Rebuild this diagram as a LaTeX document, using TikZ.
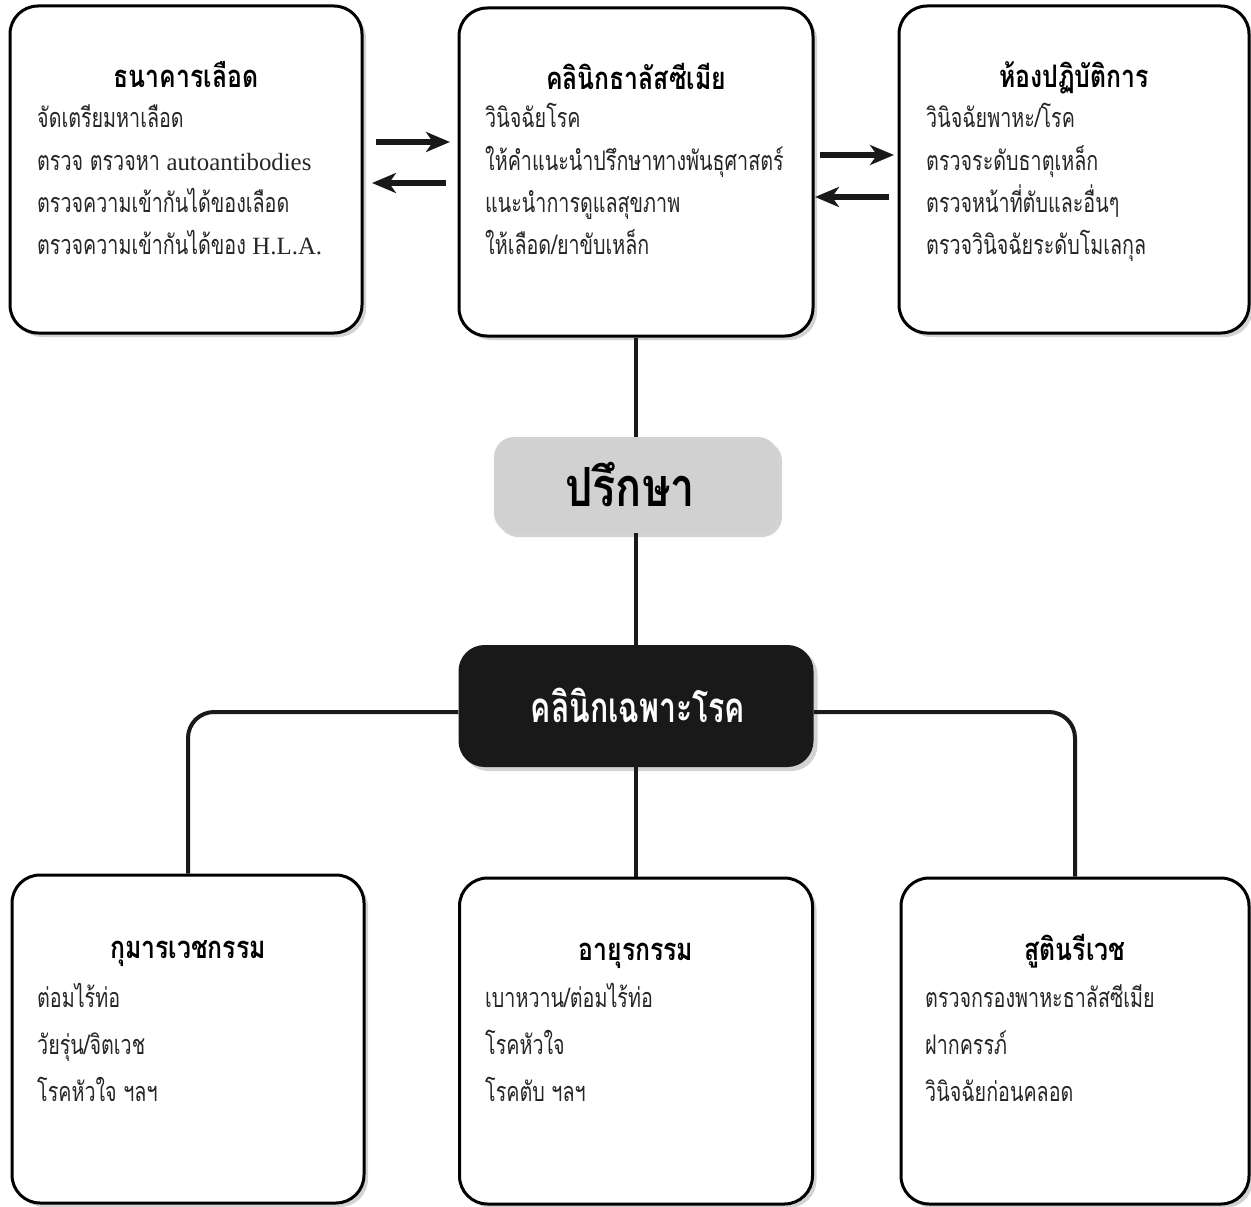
\documentclass[tikz,border=0pt]{standalone}
\usepackage{fontspec}
\usetikzlibrary{arrows.meta,shadows}
\newfontfamily\thai[Script=Thai,FakeStretch=0.73]{Loma}
\newfontfamily\thaiT[Script=Thai,FakeStretch=0.8]{Loma}
\newfontfamily\thaiB[Script=Thai,FakeStretch=0.8]{Loma}
\newfontfamily\thaiC[Script=Thai,FakeStretch=0.72]{Loma}
\newfontfamily\lat[Scale=0.92]{Liberation Serif}
\newcommand\bodytext[5]{\foreach \t [count=\i] in {#5} {\node[body] (#1\i) at (#2,{#3+(\i-1)*#4}) {\t};}}
\begin{document}
\begin{tikzpicture}[x={(1pt,0)},y={(0,-1pt)},
  box/.style={draw=black, line width=3pt, rounded corners=28pt, fill=white,
    drop shadow={shadow xshift=4pt, shadow yshift=-4pt, opacity=0.35}},
  ttl/.style={font=\thaiT\bfseries\fontsize{31}{36}\selectfont, anchor=base, inner sep=0pt},
  body/.style={font=\thai\fontsize{27}{32}\selectfont, anchor=base west, inner sep=0pt, text=black!85},
  link/.style={line width=4pt, black!90},
  arr/.style={line width=5.5pt, black!90, -{Stealth[length=24pt,width=20pt,inset=7pt]}},
]
\useasboundingbox (0,0) rectangle (1251,1207);
% top boxes
\node[box, minimum width=352pt, minimum height=327pt] (bank) at (186,169.5) {};
\node[box, minimum width=354pt, minimum height=328pt] (tm) at (636,172) {};
\node[box, minimum width=350pt, minimum height=327pt] (lab) at (1074,169.5) {};
% bottom boxes
\node[box, minimum width=352pt, minimum height=328pt] (bl) at (188,1039) {};
\node[box, minimum width=353pt, minimum height=326pt] (bm) at (636,1041) {};
\node[box, minimum width=348pt, minimum height=326pt] (br) at (1075,1041) {};
% centre boxes
\node[fill=black!18, rounded corners=20pt, minimum width=284pt, minimum height=96pt,
  drop shadow={shadow xshift=4pt, shadow yshift=-4pt, opacity=0.35}] (cons) at (636,485) {};
\node[fill=black!90, rounded corners=26pt, minimum width=355pt, minimum height=122pt,
  drop shadow={shadow xshift=4pt, shadow yshift=-4pt, opacity=0.35}] (spec) at (636,706) {};
\node[font=\thaiB\bfseries\fontsize{54}{60}\selectfont, anchor=base, inner sep=0pt] (consT) at (630,506) {ปรึกษา};
\node[font=\thaiC\bfseries\fontsize{42}{48}\selectfont, text=white, anchor=base, inner sep=0pt] (specT) at (638,722) {คลินิกเฉพาะโรค};
% connectors
\draw[link] (tm.south) -- (cons.north);
\draw[link] (cons.south) -- (spec.north);
\draw[link] (spec.south) -- (bm.north);
\draw[link, rounded corners=26pt] ([yshift=-6pt]spec.west) -| (bl.north);
\draw[link, rounded corners=26pt] ([yshift=-6pt]spec.east) -| (br.north);
% arrows
\coordinate (a1s) at (376,142); \coordinate (a1e) at (450,142);
\coordinate (a2s) at (446,183); \coordinate (a2e) at (372,183);
\coordinate (a3s) at (820,155); \coordinate (a3e) at (894,155);
\coordinate (a4s) at (889,197); \coordinate (a4e) at (815,197);
\draw[arr] (a1s) -- (a1e);
\draw[arr] (a2s) -- (a2e);
\draw[arr] (a3s) -- (a3e);
\draw[arr] (a4s) -- (a4e);
% titles
\node[ttl] (bankT) at (186,88) {ธนาคารเลือด};
\node[ttl] (tmT) at (636,90) {คลินิกธาลัสซีเมีย};
\node[ttl] (labT) at (1074,88) {ห้องปฏิบัติการ};
\node[ttl] (blT) at (188,958) {กุมารเวชกรรม};
\node[ttl] (bmT) at (636,960) {อายุรกรรม};
\node[ttl] (brT) at (1075,960) {สูตินรีเวช};
% body text
\bodytext{bankL}{37}{128}{42}{จัดเตรียมหาเลือด, ตรวจ ตรวจหา {\lat autoantibodies}, ตรวจความเข้ากันได้ของเลือด, ตรวจความเข้ากันได้ของ {\lat H.L.A.}}
\bodytext{tmL}{485}{128}{42}{วินิจฉัยโรค, ให้คำแนะนำปรึกษาทางพันธุศาสตร์, แนะนำการดูแลสุขภาพ, ให้เลือด/ยาขับเหล็ก}
\bodytext{labL}{926}{128}{42}{วินิจฉัยพาหะ/โรค, ตรวจระดับธาตุเหล็ก, ตรวจหน้าที่ตับและอื่นๆ, ตรวจวินิจฉัยระดับโมเลกุล}
\bodytext{blL}{37}{1007}{47}{ต่อมไร้ท่อ, วัยรุ่น/จิตเวช, โรคหัวใจ ฯลฯ}
\bodytext{bmL}{485}{1007}{47}{เบาหวาน/ต่อมไร้ท่อ, โรคหัวใจ, โรคตับ ฯลฯ}
\bodytext{brL}{925}{1007}{47}{ตรวจกรองพาหะธาลัสซีเมีย, ฝากครรภ์, วินิจฉัยก่อนคลอด}
\end{tikzpicture}
\end{document}
